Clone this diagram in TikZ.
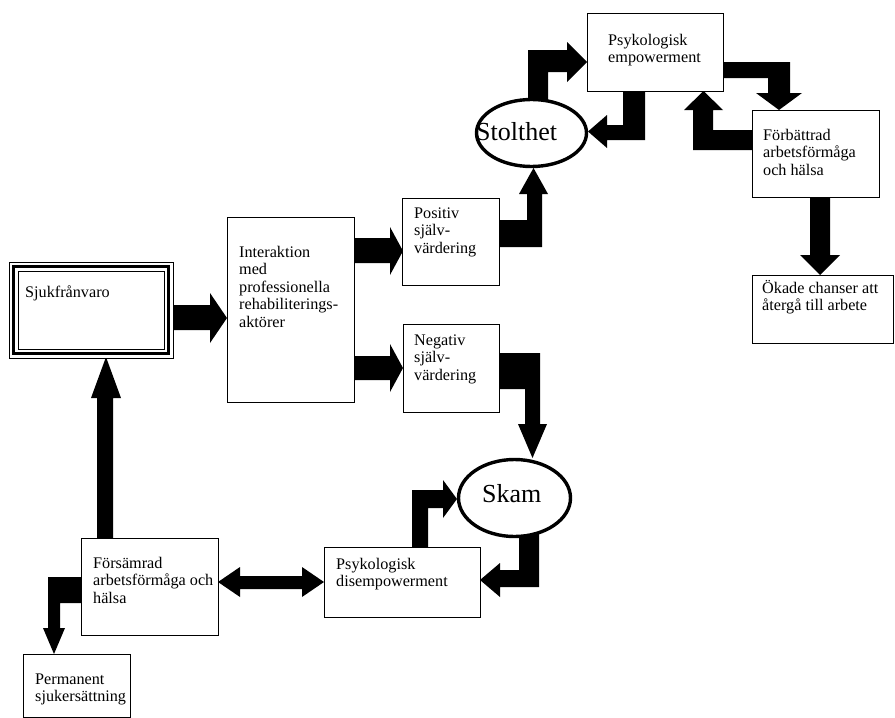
\documentclass[tikz,border=0pt]{standalone}
\usepackage{fontspec}
\setmainfont{Liberation Serif}
\usetikzlibrary{shapes.geometric}
\newcommand{\boxfont}{\fontsize{16.2}{17.6}\selectfont}
\newcommand{\ovalfont}{\fontsize{26}{28}\selectfont}
\newcommand{\txtlines}[1]{\begin{tabular}[t]{@{}l@{}}#1\end{tabular}}
\begin{document}
\begin{tikzpicture}[x=1pt,y=-1pt,
  boxstyle/.style={draw=black,line width=0.8pt,fill=white},
  txtstyle/.style={anchor=base west,inner sep=0pt,font=\boxfont,align=left},
  ovalstyle/.style={ellipse,draw=black,line width=3.4pt,fill=white,inner sep=0pt},
  ovaltxt/.style={anchor=base west,inner sep=0pt,font=\ovalfont},
  blk/.style={fill=black}]
\useasboundingbox (0,0) rectangle (895,718);

% ---------- block arrows ----------
% Sjukfranvaro -> Interaktion
\fill[blk] (173,305) -- (210,305) -- (210,293) -- (227,318) -- (210,343) -- (210,330) -- (173,330) -- cycle;
% Interaktion -> Positiv
\fill[blk] (354,238) -- (390,238) -- (390,227) -- (403,251) -- (390,275) -- (390,263) -- (354,263) -- cycle;
% Interaktion -> Negativ
\fill[blk] (354,356) -- (390,356) -- (390,344) -- (403,368) -- (390,392) -- (390,380) -- (354,380) -- cycle;
% Positiv -> Stolthet
\fill[blk] (499,247) -- (542,247) -- (542,194) -- (548,194) -- (533.5,168) -- (519,194) -- (527,194) -- (527,220) -- (499,220) -- cycle;
% Stolthet -> Psykologisk empowerment
\fill[blk] (528,101) -- (528,50) -- (567,50) -- (567,42) -- (587,62) -- (567,82) -- (567,72) -- (548,72) -- (548,101) -- cycle;
% Psykologisk empowerment -> Stolthet
\fill[blk] (623,91) -- (645,91) -- (645,140) -- (607,140) -- (607,148) -- (588,131.5) -- (607,115) -- (607,125) -- (623,125) -- cycle;
% Psykologisk empowerment -> Forbattrad
\fill[blk] (723,62) -- (790,62) -- (790,93) -- (802,93) -- (779,110) -- (756,93) -- (768,93) -- (768,78) -- (723,78) -- cycle;
% Forbattrad -> Psykologisk empowerment
\fill[blk] (752,130) -- (713,130) -- (713,110) -- (723,110) -- (703.5,91) -- (684,110) -- (693,110) -- (693,150) -- (752,150) -- cycle;
% Forbattrad -> Okade
\fill[blk] (810,197) -- (830,197) -- (830,255) -- (840,255) -- (820,275) -- (800,255) -- (810,255) -- cycle;
% Negativ -> Skam
\fill[blk] (499,353) -- (540,353) -- (540,424) -- (547,424) -- (532.5,458) -- (518,424) -- (525,424) -- (525,389) -- (499,389) -- cycle;
% Disempowerment -> Skam
\fill[blk] (412,547) -- (412,490) -- (443,490) -- (443,480) -- (457,499) -- (443,518) -- (443,508) -- (428,508) -- (428,547) -- cycle;
% Skam -> Disempowerment
\fill[blk] (519,534) -- (539,534) -- (539,587) -- (500,587) -- (500,597) -- (480,580) -- (500,563) -- (500,570) -- (519,570) -- cycle;
% Forsamrad <-> Disempowerment
\fill[blk] (218,582) -- (240,567) -- (240,576) -- (302,576) -- (302,567) -- (324,582) -- (302,597) -- (302,589) -- (240,589) -- (240,597) -- cycle;
% Forsamrad -> Sjukfranvaro
\fill[blk] (97,538) -- (97,398) -- (91,398) -- (106,357) -- (121,398) -- (113,398) -- (113,538) -- cycle;
% Forsamrad -> Permanent
\fill[blk] (81,577) -- (48,577) -- (48,628) -- (43,628) -- (54,654) -- (65,628) -- (60,628) -- (60,603) -- (81,603) -- cycle;

% ---------- boxes ----------
% Sjukfranvaro: triple border
\draw[line width=1pt,fill=white] (9,262) rectangle (173,358);
\draw[line width=2.6pt] (13.5,266.5) rectangle (168.5,353.5);
\draw[line width=1pt] (18,271) rectangle (164,349);
\node[txtstyle] (sjuk) at (25,297) {Sjukfrånvaro};

\draw[boxstyle] (227,217) rectangle (354,402);
\node[txtstyle] (inter) at (239,257) {\txtlines{Interaktion\\med\\professionella\\rehabiliterings-\\aktörer}};

\draw[boxstyle] (402,198) rectangle (499,285);
\node[txtstyle] (pos) at (414,218) {\txtlines{Positiv\\själv-\\värdering}};

\draw[boxstyle] (403,324) rectangle (499,412);
\node[txtstyle] (neg) at (414,345) {\txtlines{Negativ\\själv-\\värdering}};

\draw[boxstyle] (587,13) rectangle (723,91);
\node[txtstyle] (emp) at (608,45) {\txtlines{Psykologisk\\empowerment}};

\draw[boxstyle] (752,110) rectangle (879,197);
\node[txtstyle] (forb) at (763,140) {\txtlines{Förbättrad\\arbetsförmåga\\och hälsa}};

\draw[boxstyle] (752,275) rectangle (893.5,343);
\node[txtstyle] (okade) at (762,293) {\txtlines{Ökade chanser att\\återgå till arbete}};

\draw[boxstyle] (81,538) rectangle (218,635);
\node[txtstyle] (fors) at (93,568) {\txtlines{Försämrad\\arbetsförmåga och\\hälsa}};

\draw[boxstyle] (23,654) rectangle (130,717);
\node[txtstyle] (perm) at (35,684) {\txtlines{Permanent\\sjukersättning}};

\draw[boxstyle] (324,547) rectangle (480,617);
\node[txtstyle] (disemp) at (336,569) {\txtlines{Psykologisk\\disempowerment}};

% ---------- ellipses ----------
\node[ovalstyle,minimum width=110pt,minimum height=67pt] (stoltE) at (531.5,133) {};
\node[ovaltxt] (stolt) at (476,140) {Stolthet};
\node[ovalstyle,minimum width=112pt,minimum height=77pt] (skamE) at (514.5,498) {};
\node[ovaltxt] (skam) at (482,502) {Skam};
\end{tikzpicture}
\end{document}
